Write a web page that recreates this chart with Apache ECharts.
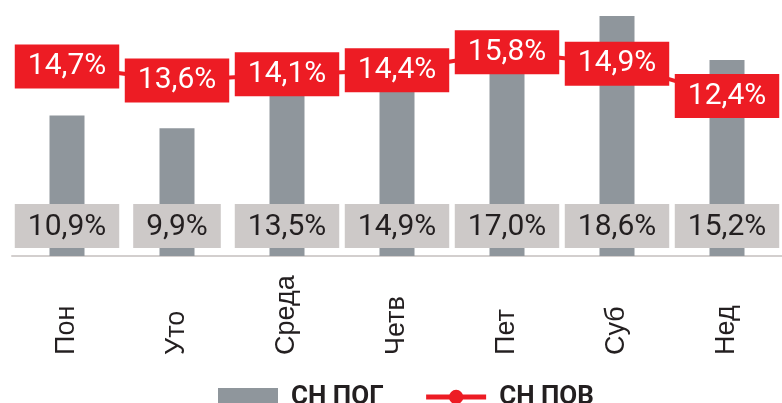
<!DOCTYPE html>
<html>
<head>
<meta charset="utf-8">
<script src="https://cdn.jsdelivr.net/npm/echarts@6/dist/echarts.min.js"></script>
<style>
  html, body { margin: 0; padding: 0; background: #fff; }
  #chart { width: 782px; height: 403px; }
</style>
</head>
<body>
<div id="chart"></div>
<script>
// дни недели
const days = ['Пон', 'Уто', 'Среда', 'Четв', 'Пет', 'Суб', 'Нед'];
// СН ПОГ (столбцы)
const pogValues = [10.9, 9.9, 13.5, 14.9, 17.0, 18.6, 15.2];
// СН ПОВ (линия)
const povValues = [14.7, 13.6, 14.1, 14.4, 15.8, 14.9, 12.4];

const fmt = v => v.toFixed(1).replace('.', ',') + '%';

let chart = echarts.init(document.getElementById('chart'));
chart.setOption({
  animation: false,
  grid: { left: 12, right: -9, top: 0, bottom: 147 },
  legend: {
    left: 213,
    top: 379,
    itemWidth: 60,
    itemHeight: 18,
    itemGap: 40,
    textStyle: {
      fontFamily: 'Roboto', fontWeight: 'bold', fontSize: 26, color: '#231f20',
      padding: [0, 0, 0, 8]
    },
    data: [
      { name: 'СН ПОГ', icon: 'rect' },
      { name: 'СН ПОВ', lineStyle: { width: 5, color: '#ed1c24' } }
    ]
  },
  xAxis: {
    type: 'category',
    data: days,
    axisLine: { lineStyle: { color: '#d3cfce', width: 2 } },
    axisTick: { show: false },
    axisLabel: {
      rotate: 90,
      align: 'left',
      margin: 99,
      fontFamily: 'Liberation Sans',
      fontSize: 27,
      color: '#231f20'
    }
  },
  yAxis: {
    type: 'value',
    min: 0,
    max: 19.85,
    show: false,
    splitLine: { show: false }
  },
  series: [
    {
      name: 'СН ПОГ',
      type: 'bar',
      data: pogValues,
      barWidth: 35,
      itemStyle: { color: '#8f969c' },
      label: {
        show: true,
        position: 'insideBottom',
        distance: 8,
        formatter: p => fmt(p.value),
        fontFamily: 'Roboto',
        fontSize: 30,
        lineHeight: 30,
        color: '#231f20',
        backgroundColor: '#cdc9c8',
        padding: [8, 13, 6, 13]
      }
    },
    {
      name: 'СН ПОВ',
      type: 'line',
      data: povValues,
      symbol: 'circle',
      symbolSize: 17,
      itemStyle: { color: '#ed1c24' },
      lineStyle: { color: '#ed1c24', width: 4 },
      z: 5,
      label: {
        show: true,
        position: 'inside',
        formatter: p => fmt(p.value),
        fontFamily: 'Roboto',
        fontSize: 30,
        lineHeight: 30,
        color: '#ffffff',
        backgroundColor: '#ed1c24',
        padding: [8, 13, 6, 13]
      }
    }
  ]
});
</script>
</body>
</html>
